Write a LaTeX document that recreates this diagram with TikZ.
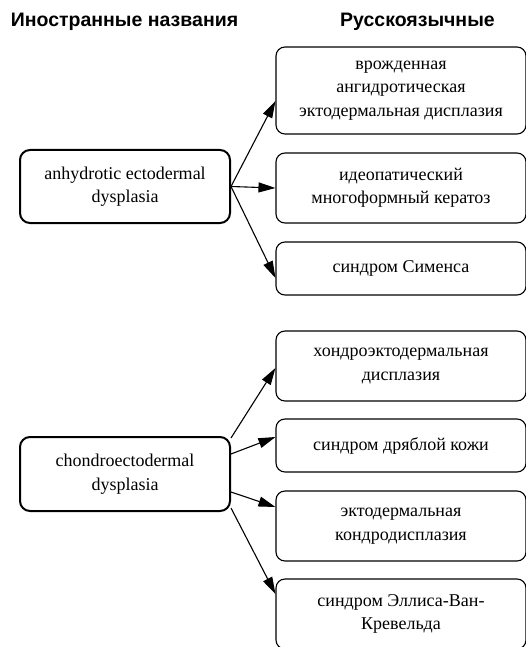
\documentclass[tikz,border=0pt]{standalone}
\usepackage{fontspec}
\setmainfont{Liberation Serif}
\newfontfamily\hdrfont{Liberation Sans}
\usetikzlibrary{arrows.meta}
\tikzset{
  boxtxt/.style={font=\fontsize{18}{23.5}\selectfont, align=center, inner sep=0pt},
  leftbox/.style={boxtxt, draw, line width=2pt, rounded corners=10pt, minimum width=210pt},
  rightbox/.style={boxtxt, draw, line width=1.1pt, rounded corners=9pt, minimum width=250pt},
  hdr/.style={font=\hdrfont\bfseries\fontsize{19.5}{23}\selectfont, inner sep=0pt},
  arr/.style={line width=1.1pt, -{Triangle[length=17pt,width=10pt]}}
}
\begin{document}
\begin{tikzpicture}[x=1pt,y=-1pt]
\path[use as bounding box, clip] (0,0) rectangle (526,647);
\fill[white] (0,0) rectangle (526,647);
% headers
\node[hdr] (h1) at (124.5,22) {Иностранные названия};
\node[hdr] (h2) at (417.5,22) {Русскоязычные};
% group 1
\node[leftbox, minimum height=73pt] (A) at (125,186.5) {anhydrotic ectodermal\\dysplasia};
\node[rightbox, minimum height=87pt] (R1) at (401,90.5) {врожденная\\ангидротическая\\эктодермальная дисплазия};
\node[rightbox, minimum height=70pt] (R2) at (401,188) {идеопатический\\многоформный кератоз};
\node[rightbox, minimum height=53pt] (R3) at (401,268.5) {синдром Сименса};
% group 2
\node[leftbox, minimum height=74pt] (B) at (125,474) {chondroectodermal\\dysplasia};
\node[rightbox, minimum height=70pt] (R4) at (401,366) {хондроэктодермальная\\дисплазия};
\node[rightbox, minimum height=53pt] (R5) at (401,445.5) {синдром дряблой кожи};
\node[rightbox, minimum height=70pt] (R6) at (401,526) {эктодермальная\\кондродисплазия};
\node[rightbox, minimum height=70pt] (R7) at (401,614) {синдром Эллиса-Ван-\\Кревельда};
% arrows group 1
\draw[arr] (A.east) -- ([yshift=-10.5pt]R1.west);
\draw[arr] (A.east) -- (R2.west);
\draw[arr] (A.east) -- ([yshift=-9.5pt]R3.west);
% arrows group 2
\draw[arr] ([yshift=36pt]B.east) -- ([yshift=-2pt]R4.west);
\draw[arr] ([yshift=20pt]B.east) -- ([yshift=8.5pt]R5.west);
\draw[arr] ([yshift=-18pt]B.east) -- ([yshift=19pt]R6.west);
\draw[arr] ([yshift=-34pt]B.east) -- ([yshift=20pt]R7.west);
\end{tikzpicture}
\end{document}
